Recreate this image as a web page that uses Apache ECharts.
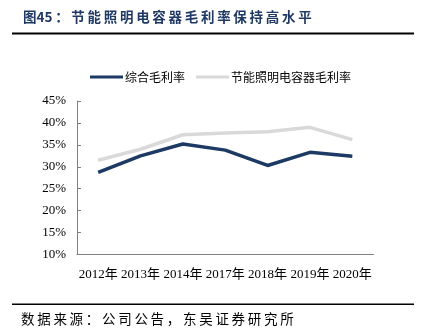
<!DOCTYPE html>
<html><head><meta charset="utf-8">
<script src="https://cdn.jsdelivr.net/npm/echarts@6/dist/echarts.min.js"></script>
<style>html,body{margin:0;padding:0;background:#fff}#c{width:422px;height:334px}</style>
</head><body><div id="c"></div>
<script>
var categories = ['2012年','2013年','2014年','2017年','2018年','2019年','2020年'];
var totalMargin = [28.7, 32.5, 35.2, 33.8, 30.3, 33.3, 32.4];
var capacitorMargin = [31.5, 34.0, 37.3, 37.7, 38.0, 39.0, 36.2];
var yTicks = [10, 15, 20, 25, 30, 35, 40, 45];
var seriesNames = ['综合毛利率', '节能照明电容器毛利率'];
var titlePrefix = '图45';
var titleText = '：节能照明电容器毛利率保持高水平';
var sourceText = '数据来源：公司公告，东吴证券研究所';

function spaced(s){ return s.split('').join('\u2009'); }

var chart = echarts.init(document.getElementById('c'), null, {renderer:'canvas'});
chart.setOption({
  animation:false,
  backgroundColor:'#fff',
  graphic:[
    {type:'text', left:23, top:10, style:{text:titlePrefix + '\u2009' + spaced(titleText), font:'bold 13.5px "Noto Sans CJK SC"', fill:'#1f3864'}},
    {type:'rect', shape:{x:12,y:32.5,width:402,height:2}, style:{fill:'#000'}},
    {type:'rect', shape:{x:12,y:303.5,width:402,height:1.5}, style:{fill:'#000'}},
    {type:'text', left:21, top:312, style:{text:spaced(sourceText), font:'13.5px "Noto Sans CJK SC"', fill:'#000'}}
  ],
  legend:{
    top:71, left:90, padding:0,
    itemWidth:33, itemHeight:3, itemGap:11,
    icon:'rect',
    textStyle:{fontFamily:'"Noto Sans CJK SC"', fontSize:12, color:'#000', padding:[0,0,0,-3]},
    data:seriesNames
  },
  grid:{left:77, right:48.5, top:101, bottom:79.5, containLabel:false},
  xAxis:{
    type:'category', data:categories, boundaryGap:true,
    axisLine:{lineStyle:{color:'#808080', width:1}},
    axisTick:{inside:true, length:4, lineStyle:{color:'#808080'}},
    axisLabel:{fontFamily:'"Liberation Serif","Noto Sans CJK SC"', fontSize:13, color:'#000', margin:14, interval:0}
  },
  yAxis:{
    type:'value', min:yTicks[0], max:yTicks[yTicks.length-1], interval:5,
    axisLine:{show:true, lineStyle:{color:'#808080', width:1}},
    axisTick:{show:true, inside:true, length:4, lineStyle:{color:'#808080'}},
    splitLine:{show:false},
    axisLabel:{fontFamily:'"Liberation Serif"', fontSize:13, color:'#000', margin:11, formatter:'{value}%'}
  },
  series:[
    {name:seriesNames[0], type:'line', data:totalMargin, symbol:'none', lineStyle:{color:'#1c3a63', width:3.5}, itemStyle:{color:'#1c3a63'}, z:3},
    {name:seriesNames[1], type:'line', data:capacitorMargin, symbol:'none', lineStyle:{color:'#d9d9d9', width:3.5}, itemStyle:{color:'#d9d9d9'}, z:2}
  ]
});
</script></body></html>
